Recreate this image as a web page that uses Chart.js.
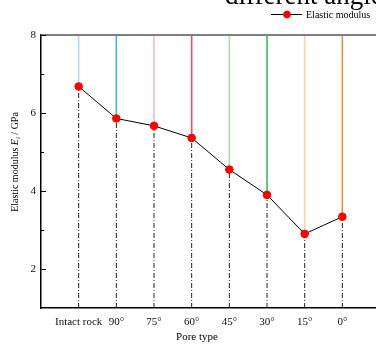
<!DOCTYPE html>
<html>
<head>
<meta charset="utf-8">
<script src="https://cdn.jsdelivr.net/npm/chart.js@4"></script>
<style>
  html, body { margin: 0; padding: 0; background: #fff; overflow: hidden; }
  #wrap { width: 400px; height: 351px; }
</style>
</head>
<body>
<div id="wrap"><canvas id="myChart" width="400" height="351"></canvas></div>
<script>
// data
const poreTypes = ['Intact rock', '90°', '75°', '60°', '45°', '30°', '15°', '0°'];
const modulus = [6.68, 5.86, 5.67, 5.36, 4.55, 3.9, 2.9, 3.34];
const lineColors = ['#a9dcef', '#3fb5e3', '#f2bdd0', '#e3505f', '#b3dba0', '#3cb95a', '#f6d2b4', '#ea8f3c'];
const yTicks = [2, 4, 6, 8];

const serif = '"Liberation Serif", "Times New Roman", serif';

// main series
const datasets = [{
  label: 'Elastic modulus',
  data: modulus.map((v, i) => ({x: i, y: v})),
  borderColor: '#000',
  borderWidth: 1,
  pointBackgroundColor: '#ff0000',
  pointBorderColor: '#ff0000',
  pointRadius: 3.8,
  tension: 0
}];

// coloured drop lines from top down to each point
modulus.forEach((v, i) => {
  datasets.push({
    data: [{x: i, y: v}, {x: i, y: 8}],
    borderColor: lineColors[i],
    borderWidth: 1.6,
    pointRadius: 0
  });
});

// dash-dot lines from each point down to the axis
modulus.forEach((v, i) => {
  datasets.push({
    data: [{x: i, y: 1}, {x: i, y: v}],
    borderColor: '#222',
    borderWidth: 1,
    borderDash: [5, 2, 1, 2],
    pointRadius: 0
  });
});

const extras = {
  id: 'extras',
  afterDraw(chart) {
    const ctx = chart.ctx;
    const a = chart.chartArea;
    const ys = chart.scales.y;
    ctx.save();

    // top frame line
    ctx.strokeStyle = '#7f7f7f';
    ctx.lineWidth = 2;
    ctx.beginPath();
    ctx.moveTo(a.left, a.top);
    ctx.lineTo(a.right, a.top);
    ctx.stroke();

    // inward ticks on y axis
    ctx.strokeStyle = '#000';
    ctx.lineWidth = 1;
    for (let v = 2; v <= 8; v++) {
      const py = Math.round(ys.getPixelForValue(v)) + 0.5;
      const len = v % 2 === 0 ? 5 : 3;
      ctx.beginPath();
      ctx.moveTo(a.left, py);
      ctx.lineTo(a.left + len, py);
      ctx.stroke();
    }

    // title (cut off at the top like the source)
    ctx.fillStyle = '#000';
    ctx.font = '27px ' + serif;
    ctx.textAlign = 'left';
    ctx.textBaseline = 'alphabetic';
    ctx.fillText('different angles', 225, 4);

    // legend
    ctx.strokeStyle = '#000';
    ctx.lineWidth = 1;
    ctx.beginPath();
    ctx.moveTo(271, 14.5);
    ctx.lineTo(302, 14.5);
    ctx.stroke();
    ctx.fillStyle = '#ff0000';
    ctx.beginPath();
    ctx.arc(287, 14.5, 3.8, 0, Math.PI * 2);
    ctx.fill();
    ctx.fillStyle = '#000';
    ctx.font = '10px ' + serif;
    ctx.textBaseline = 'middle';
    ctx.fillText('Elastic modulus', 306, 15);

    // x title
    ctx.textAlign = 'center';
    ctx.font = '11px ' + serif;
    ctx.fillText('Pore type', 197, 337);

    // y title with italic E and subscript i
    ctx.translate(14, 162);
    ctx.rotate(-Math.PI / 2);
    const p1 = 'Elastic modulus ';
    const p3 = ' / GPa';
    ctx.font = '10px ' + serif;
    const w1 = ctx.measureText(p1).width;
    const w3 = ctx.measureText(p3).width;
    ctx.font = 'italic 10px ' + serif;
    const wE = ctx.measureText('E').width;
    ctx.font = 'italic 7px ' + serif;
    const wi = ctx.measureText('i').width;
    let x = -(w1 + wE + wi + w3) / 2;
    ctx.textAlign = 'left';
    ctx.textBaseline = 'alphabetic';
    ctx.font = '10px ' + serif;
    ctx.fillText(p1, x, 3.5); x += w1;
    ctx.font = 'italic 10px ' + serif;
    ctx.fillText('E', x, 3.5); x += wE;
    ctx.font = 'italic 7px ' + serif;
    ctx.fillText('i', x, 5.5); x += wi;
    ctx.font = '10px ' + serif;
    ctx.fillText(p3, x, 3.5);

    ctx.restore();
  }
};

const config = {
  type: 'line',
  data: { datasets },
  options: {
    responsive: false,
    animation: false,
    devicePixelRatio: 1,
    layout: { padding: { top: 35, right: 20, left: 0, bottom: 0 } },
    plugins: { legend: { display: false }, tooltip: { enabled: false } },
    scales: {
      x: {
        type: 'linear',
        min: -1,
        max: 8,
        grid: { display: false, drawTicks: false },
        border: { color: '#000', width: 1.5 },
        ticks: {
          stepSize: 1,
          autoSkip: false,
          maxRotation: 0,
          padding: 8,
          color: '#111',
          font: { family: serif, size: 11 },
          callback: v => poreTypes[v] || ''
        },
        afterFit: s => { s.height = 43; }
      },
      y: {
        min: 1,
        max: 8,
        grid: { display: false, drawTicks: false },
        border: { color: '#000', width: 1.5 },
        ticks: {
          stepSize: 1,
          padding: 5,
          color: '#111',
          font: { family: serif, size: 11 },
          callback: v => yTicks.includes(v) ? v : ''
        },
        afterFit: s => { s.width = 41; }
      }
    }
  },
  plugins: [extras]
};

var myChart = new Chart(document.getElementById('myChart'), config);
</script>
</body>
</html>
